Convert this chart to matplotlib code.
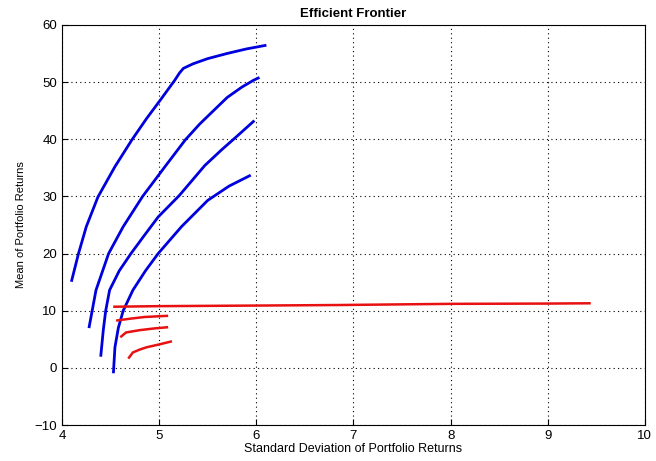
import matplotlib
matplotlib.use('Agg')
import matplotlib.pyplot as plt

plt.rcParams['font.family'] = ['Liberation Sans', 'DejaVu Sans']

# frontier curves: (std, mean) pairs
blue_sd = [
    [4.10, 4.17, 4.25, 4.37, 4.545, 4.72, 4.87, 5.01, 5.10, 5.16, 5.21, 5.25, 5.35, 5.50, 5.70, 5.90, 6.09],
    [4.28, 4.35, 4.48, 4.63, 4.83, 5.06, 5.27, 5.42, 5.56, 5.70, 5.85, 5.97, 6.02],
    [4.40, 4.425, 4.45, 4.49, 4.59, 4.71, 4.84, 4.99, 5.21, 5.47, 5.64, 5.78, 5.97],
    [4.53, 4.545, 4.58, 4.63, 4.73, 4.86, 4.99, 5.23, 5.50, 5.72, 5.93],
]
blue_mean = [
    [15.3, 20.0, 24.7, 29.9, 35.2, 39.9, 43.6, 46.8, 48.9, 50.3, 51.6, 52.4, 53.2, 54.1, 55.0, 55.8, 56.4],
    [7.2, 13.6, 20.0, 24.7, 30.0, 35.2, 39.9, 42.7, 45.0, 47.3, 49.1, 50.3, 50.7],
    [2.2, 6.6, 10.0, 13.6, 17.0, 20.0, 23.0, 26.4, 30.2, 35.4, 38.1, 40.2, 43.1],
    [-0.7, 3.6, 7.0, 10.0, 13.6, 17.0, 20.0, 24.7, 29.3, 31.8, 33.6],
]

red_sd = [
    [4.54, 5.00, 6.00, 6.88, 8.00, 9.00, 9.43],
    [4.57, 4.70, 4.85, 5.08],
    [4.61, 4.66, 4.80, 4.95, 5.08],
    [4.69, 4.73, 4.80, 4.87, 5.00, 5.12],
]
red_mean = [
    [10.7, 10.8, 10.9, 11.0, 11.2, 11.25, 11.3],
    [8.3, 8.6, 8.9, 9.1],
    [5.5, 6.2, 6.6, 6.9, 7.1],
    [1.8, 2.7, 3.2, 3.6, 4.1, 4.6],
]

fig = plt.figure(figsize=(6.56, 4.61), dpi=100)
ax = fig.add_axes([0.0945, 0.078, 0.8885, 0.868])

for xs, ys in zip(blue_sd, blue_mean):
    ax.plot(xs, ys, color='#0000dd', linewidth=2, solid_joinstyle='round')
for xs, ys in zip(red_sd, red_mean):
    ax.plot(xs, ys, color='#e81010', linewidth=1.8, solid_joinstyle='round')

ax.set_xlim(4, 10)
ax.set_ylim(-10, 60)
ax.set_xticks(range(4, 11))
ax.set_yticks(range(-10, 61, 10))
ax.grid(True, color='black', linestyle=(0, (1, 3)), linewidth=0.8)
ax.tick_params(direction='in', labelsize=9.5, length=4)
ax.set_title('Efficient Frontier', fontsize=9.5, fontweight='bold', pad=6)
ax.set_xlabel('Standard Deviation of Portfolio Returns', fontsize=9, labelpad=1)
ax.set_ylabel('Mean of Portfolio Returns', fontsize=8, labelpad=6)

fig.savefig('out.png', dpi=100)
